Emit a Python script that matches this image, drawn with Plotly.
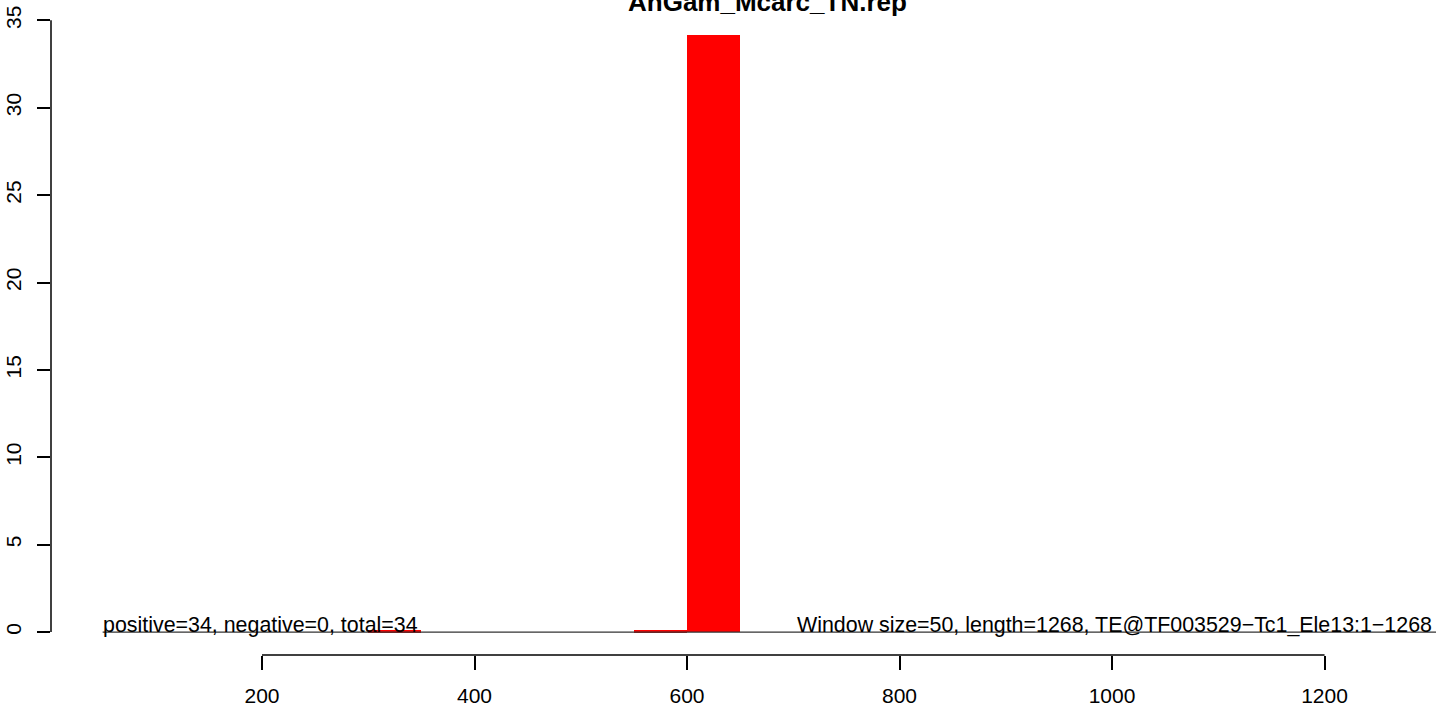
import plotly.graph_objects as go

# Data
window_starts = [300, 550, 600]
window_counts = [0.1, 0.1, 34.15]
window_size = 50
baseline_x = [50, 1320]
baseline_y = [0, 0]
x_ticks = [200, 400, 600, 800, 1000, 1200]
y_ticks = [0, 5, 10, 15, 20, 25, 30, 35]
title_text = "AnGam_Mcarc_TN.rep"
left_note = "positive=34, negative=0, total=34"
right_note = "Window size=50, length=1268, TE@TF003529\u2212Tc1_Ele13:1\u22121268"

FONT = "Liberation Sans, Arial, Helvetica, sans-serif"
FS = 21
NOTE_FS = 21.4

fig = go.Figure()
fig.add_trace(go.Scatter(x=baseline_x, y=baseline_y, mode="lines",
                         line=dict(color="#333333", width=1.3),
                         hoverinfo="skip", showlegend=False))
fig.add_trace(go.Bar(x=window_starts, y=window_counts,
                     width=[window_size] * len(window_starts), offset=0,
                     marker=dict(color="#FF0000", line=dict(width=0)),
                     showlegend=False))

fig.update_layout(
    width=1436, height=707,
    margin=dict(l=51, r=0, t=20, b=52, autoexpand=False),
    paper_bgcolor="white", plot_bgcolor="white",
    font=dict(family=FONT, size=FS, color="black"),
    bargap=0,
    xaxis=dict(range=[1.4, 1304.9], tickvals=x_ticks, ticktext=[str(v) for v in x_ticks],
               ticks="outside", ticklen=14, tickwidth=1.5, tickcolor="black",
               showgrid=False, zeroline=False, showline=False, automargin=False,
               ticklabelstandoff=8,
               tickfont=dict(family=FONT, size=FS, color="black")),
    yaxis=dict(range=[-1.314, 35.02], tickvals=y_ticks, ticktext=[str(v) for v in y_ticks],
               ticks="outside", ticklen=13, tickwidth=1.5, tickcolor="black",
               tickangle=-90, showgrid=False, zeroline=False, showline=False, automargin=False,
               ticklabelstandoff=8,
               tickfont=dict(family=FONT, size=FS, color="black")),
    shapes=[
        dict(type="line", xref="x", yref="paper", x0=x_ticks[0], x1=x_ticks[-1], y0=0, y1=0,
             line=dict(color="black", width=1.5)),
        dict(type="line", xref="paper", yref="y", x0=0, x1=0, y0=y_ticks[0], y1=y_ticks[-1],
             line=dict(color="black", width=1.5)),
    ],
    annotations=[
        dict(text="<b>" + title_text + "</b>", xref="paper", yref="paper", x=0.517, y=1.0,
             yanchor="bottom", xanchor="center", showarrow=False, yshift=1,
             font=dict(family=FONT, size=26, color="black")),
        dict(text=left_note, xref="x", yref="y", x=50, y=0, xanchor="left", yanchor="bottom",
             showarrow=False, yshift=-7, xshift=-2, font=dict(family=FONT, size=NOTE_FS, color="black")),
        dict(text=right_note, xref="x", yref="y", x=1301, y=0, xanchor="right", yanchor="bottom",
             showarrow=False, yshift=-7, xshift=2, font=dict(family=FONT, size=NOTE_FS, color="black")),
    ],
)

fig.write_html("out.html", config={"displayModeBar": False},
               post_script="document.body.style.margin='0';document.body.style.overflow='hidden';")
